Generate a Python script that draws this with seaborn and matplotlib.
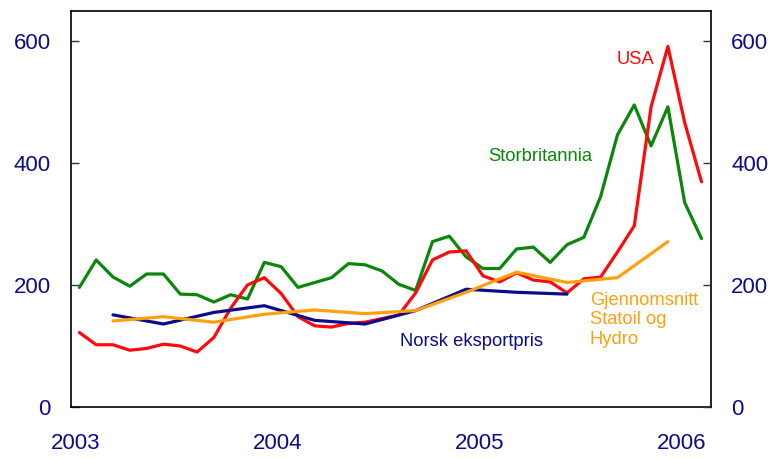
import numpy as np
import pandas as pd
import matplotlib.pyplot as plt
import matplotlib.transforms as mtransforms
import seaborn as sns

# =====================================================
# Data (monthly, Jan 2003 - Feb 2006)
# =====================================================

months = pd.period_range("2003-01", "2006-02", freq="M")

storbritannia = [
    196, 241, 213, 198, 218, 218, 185, 184, 172, 184, 177, 237,
    230, 196, 204, 212, 235, 233, 223, 201, 191, 271, 280, 246,
    227, 227, 259, 262, 237, 266, 278, 345, 446, 495, 428, 492,
    335, 276,
]

usa = [
    122, 102, 102, 93, 96, 103, 100, 90, 114, 162, 200, 212,
    186, 148, 133, 131, 137, 139, 145, 151, 187, 241, 254, 256,
    215, 205, 220, 208, 205, 187, 210, 213, 254, 297, 492, 591,
    466, 369,
]

# quarterly series (Mar, Jun, Sep, Dec)
norsk_months = pd.period_range("2003-03", "2005-06", freq="3M")
norsk = [151, 136, 155, 166, 142, 136, 158, 193, 188, 185]

snitt_months = pd.period_range("2003-03", "2005-12", freq="3M")
snitt = [141, 148, 139, 152, 159, 153, 158, 188, 221, 204, 212, 271]


def to_year(periods):
    # mid-month as decimal year
    return periods.year + (periods.month - 0.5) / 12


monthly = pd.DataFrame({
    "x": to_year(months),
    "Storbritannia": storbritannia,
    "USA": usa,
})

quarterly_norsk = pd.DataFrame({"x": to_year(norsk_months), "y": norsk})
quarterly_snitt = pd.DataFrame({"x": to_year(snitt_months), "y": snitt})

# =====================================================
# Style
# =====================================================

sns.set_style("white")
plt.rcParams["font.family"] = ["Liberation Sans", "DejaVu Sans"]

NAVY = "#0c0c8a"
GREEN = "#0a870a"
RED = "#ff0a0a"
ORANGE = "#ffa010"
LW = 2.3

fig = plt.figure(figsize=(7.73, 4.59), dpi=100)
ax = fig.add_axes([0.0918, 0.1133, 0.828, 0.8627])

sns.lineplot(data=monthly, x="x", y="Storbritannia", color=GREEN, lw=LW, ax=ax)
sns.lineplot(data=monthly, x="x", y="USA", color=RED, lw=LW, ax=ax)
sns.lineplot(data=quarterly_norsk, x="x", y="y", color=NAVY, lw=LW, ax=ax)
sns.lineplot(data=quarterly_snitt, x="x", y="y", color=ORANGE, lw=LW, ax=ax)

ax.set_xlim(2003, 2006.172)
ax.set_ylim(0, 649)
ax.set_xlabel("")
ax.set_ylabel("")

ax.set_xticks([2003, 2004, 2005, 2006])
ax.set_xticklabels(["2003", "2004", "2005", "2006"])
ax.set_yticks([0, 200, 400, 600])

ax.tick_params(axis="both", direction="in", length=6, width=1,
               labelsize=16, labelcolor=NAVY, color="#333333")
ax.tick_params(axis="x", pad=19)
ax.tick_params(axis="y", pad=14.5)

# nudge year labels slightly right, like the original
offset = mtransforms.ScaledTranslation(5 / 100, 0, fig.dpi_scale_trans)
for lbl in ax.get_xticklabels():
    lbl.set_transform(lbl.get_transform() + offset)

for side in ["left", "right", "top", "bottom"]:
    ax.spines[side].set_visible(True)
    ax.spines[side].set_color("black")
    ax.spines[side].set_linewidth(1.2)

ax2 = ax.twinx()
ax2.set_ylim(ax.get_ylim())
ax2.set_yticks([0, 200, 400, 600])
ax2.tick_params(axis="y", direction="in", length=6, width=1,
                labelsize=16, labelcolor=NAVY, color="#333333", pad=14.5)
for side in ["left", "right", "top", "bottom"]:
    ax2.spines[side].set_visible(False)

# =====================================================
# Series labels
# =====================================================

ax.text(2005.706, 569, "USA", color=RED, fontsize=13.2, va="center")
ax.text(2005.066, 410, "Storbritannia", color=GREEN, fontsize=13.2, va="center")
ax.text(2004.630, 108, "Norsk eksportpris", color=NAVY, fontsize=13.2, va="center")
ax.text(2005.572, 189, "Gjennomsnitt\nStatoil og\nHydro", color=ORANGE,
        fontsize=13.2, va="top", linespacing=1.2)

fig.savefig("out.png", dpi=100)
